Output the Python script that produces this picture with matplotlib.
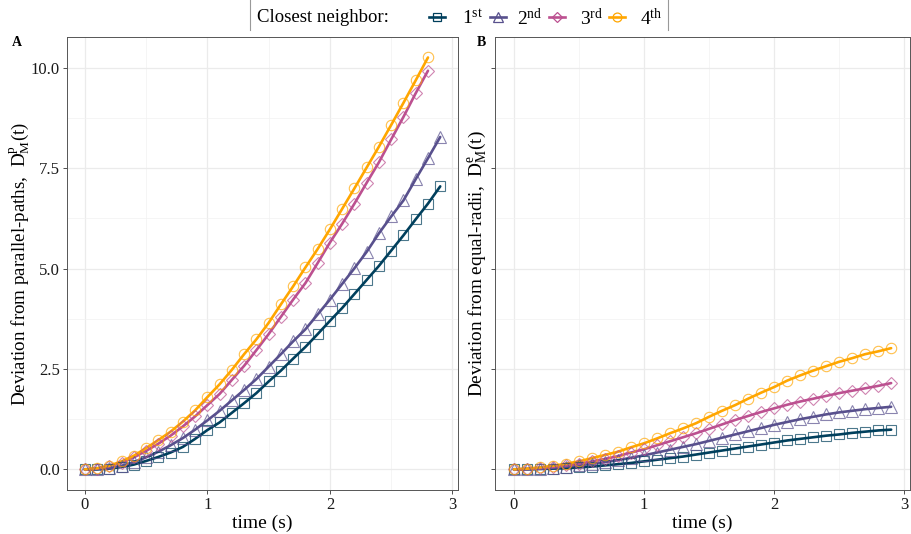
import matplotlib
matplotlib.use("Agg")
import matplotlib.pyplot as plt
from matplotlib.lines import Line2D
import numpy as np

plt.rcParams['font.family'] = ['Liberation Serif', 'DejaVu Serif']
plt.rcParams['mathtext.fontset'] = 'custom'
plt.rcParams['mathtext.rm'] = 'Liberation Serif'
plt.rcParams['mathtext.it'] = 'Liberation Serif:italic'

# ---------------- data ----------------
time_full = [round(0.1 * i, 1) for i in range(30)]   # 0.0 .. 2.9

labels = ["1$^{\\mathrm{st}}$", "2$^{\\mathrm{nd}}$", "3$^{\\mathrm{rd}}$", "4$^{\\mathrm{th}}$"]
colors = ["#003f5c", "#58508d", "#bc5090", "#ffa600"]
markers = ["s", "^", "D", "o"]
msizes = [7, 8, 6.5, 7.5]

# Panel A: deviation from parallel paths
A_1st = [0.0, 0.0, 0.02, 0.06, 0.12, 0.21, 0.31, 0.42, 0.56, 0.76, 0.98, 1.17, 1.41, 1.65, 1.90,
         2.19, 2.46, 2.76, 3.05, 3.37, 3.70, 4.02, 4.37, 4.72, 5.07, 5.45, 5.83, 6.23, 6.62, 7.05]
A_2nd = [0.0, 0.01, 0.03, 0.09, 0.18, 0.30, 0.44, 0.60, 0.78, 0.99, 1.22, 1.46, 1.72, 1.98, 2.25,
         2.56, 2.87, 3.19, 3.49, 3.86, 4.23, 4.62, 5.01, 5.42, 5.88, 6.30, 6.70, 7.23, 7.75, 8.28]
A_3rd = [0.0, 0.02, 0.08, 0.17, 0.30, 0.46, 0.64, 0.84, 1.07, 1.32, 1.60, 1.88, 2.23, 2.58, 2.97,
         3.37, 3.80, 4.23, 4.64, 5.14, 5.65, 6.12, 6.62, 7.14, 7.65, 8.22, 8.78, 9.37, 9.93]
A_4th = [0.0, 0.03, 0.09, 0.20, 0.34, 0.53, 0.73, 0.94, 1.19, 1.47, 1.80, 2.12, 2.48, 2.87, 3.24,
         3.65, 4.11, 4.56, 5.03, 5.49, 5.98, 6.49, 7.00, 7.52, 8.04, 8.58, 9.13, 9.69, 10.26]

# Panel B: deviation from equal radii
B_1st = [0.0, 0.0, 0.01, 0.02, 0.03, 0.05, 0.07, 0.10, 0.13, 0.16, 0.20, 0.24, 0.28, 0.32, 0.37,
         0.42, 0.47, 0.52, 0.57, 0.62, 0.67, 0.72, 0.76, 0.80, 0.84, 0.87, 0.91, 0.94, 0.97, 0.99]
B_2nd = [0.0, 0.01, 0.02, 0.04, 0.07, 0.10, 0.14, 0.18, 0.23, 0.29, 0.35, 0.42, 0.49, 0.56, 0.63,
         0.71, 0.79, 0.87, 0.95, 1.03, 1.11, 1.18, 1.25, 1.31, 1.37, 1.42, 1.46, 1.50, 1.53, 1.56]
B_3rd = [0.0, 0.01, 0.03, 0.06, 0.10, 0.14, 0.20, 0.26, 0.33, 0.42, 0.50, 0.60, 0.70, 0.80, 0.90,
         1.01, 1.12, 1.23, 1.33, 1.43, 1.52, 1.61, 1.69, 1.76, 1.83, 1.90, 1.96, 2.02, 2.08, 2.15]
B_4th = [0.0, 0.02, 0.05, 0.09, 0.14, 0.20, 0.28, 0.36, 0.44, 0.55, 0.65, 0.77, 0.90, 1.02, 1.15,
         1.31, 1.46, 1.60, 1.76, 1.91, 2.05, 2.21, 2.34, 2.46, 2.57, 2.68, 2.77, 2.87, 2.94, 3.02]

A_series = [A_1st, A_2nd, A_3rd, A_4th]
B_series = [B_1st, B_2nd, B_3rd, B_4th]

x_ticks = [0, 1, 2, 3]
y_ticks = [0.0, 2.5, 5.0, 7.5, 10.0]
y_ticklabels = ["0.0", "2.5", "5.0", "7.5", "10.0"]

# ---------------- figure ----------------
W, H = 912, 534
fig = plt.figure(figsize=(W / 100, H / 100), dpi=100)

def fx(px):
    return px / W

def fy(py):
    return 1 - py / H

axA = fig.add_axes([fx(67), fy(490), fx(458) - fx(67), fy(37) - fy(490)])
axB = fig.add_axes([fx(495), fy(490), fx(910) - fx(495), fy(37) - fy(490)])

def style(ax, show_ylabels):
    ax.set_xlim(-0.145, 3.045)
    ax.set_ylim(-0.513, 10.77)
    ax.set_xticks(x_ticks)
    ax.set_xticks([0.5, 1.5, 2.5], minor=True)
    ax.set_yticks(y_ticks)
    ax.set_yticks([1.25, 3.75, 6.25, 8.75], minor=True)
    ax.set_xticklabels([str(v) for v in x_ticks], fontsize=12, color="#1a1a1a")
    if show_ylabels:
        ax.set_yticklabels(y_ticklabels, fontsize=12, color="#1a1a1a")
    else:
        ax.set_yticklabels([])
    ax.grid(which="major", color="#ebebeb", linewidth=0.9)
    ax.grid(which="minor", color="#f2f2f2", linewidth=0.5)
    ax.set_axisbelow(True)
    ax.tick_params(which="major", length=3, width=0.6, color="#333333", pad=2)
    ax.tick_params(which="minor", length=0)
    for s in ax.spines.values():
        s.set_color("#555555")
        s.set_linewidth(0.7)
    ax.set_xlabel("time (s)", fontsize=14, labelpad=1)

def draw(ax, series):
    for vals, c, m, ms in zip(series, colors, markers, msizes):
        t = time_full[:len(vals)]
        ax.plot(t, vals, color=c, linewidth=1.9, zorder=3, solid_capstyle="round")
        ax.plot(t, vals, linestyle="none", marker=m, markersize=ms, markerfacecolor="none",
                markeredgecolor=c, markeredgewidth=0.8, alpha=0.7, zorder=4)

draw(axA, A_series)
draw(axB, B_series)
style(axA, True)
style(axB, False)

axA.set_ylabel("Deviation from parallel-paths,  $\\mathrm{D}_\\mathrm{M}^\\mathrm{p}(\\mathrm{t})$",
               fontsize=13.7)
axB.set_ylabel("Deviation from equal-radii,  $\\mathrm{D}_\\mathrm{M}^\\mathrm{e}(\\mathrm{t})$",
               fontsize=13.9)
axA.yaxis.set_label_coords(fx(20) / (fx(458) - fx(67)) - fx(67) / (fx(458) - fx(67)), 0.5)
axB.yaxis.set_label_coords((fx(478) - fx(495)) / (fx(910) - fx(495)), 0.5)
axA.yaxis.label.set_va("center")
axB.yaxis.label.set_va("center")

fig.text(fx(17), fy(42), "A", fontsize=10, fontweight="bold", ha="center", va="center")
fig.text(fx(481), fy(42), "B", fontsize=10, fontweight="bold", ha="center", va="center")

# ---------------- legend ----------------
fig.add_artist(Line2D([fx(250), fx(250)], [fy(0), fy(30)], color="#999999", linewidth=0.8))
fig.add_artist(Line2D([fx(668), fx(668)], [fy(0), fy(30)], color="#999999", linewidth=0.8))
fig.text(fx(257), fy(17), "Closest neighbor:", fontsize=13.5, ha="left", va="center")

key_x = [437, 498, 557, 617]
text_x = [462, 517, 580, 640]
for kx, tx, lab, c, m, ms in zip(key_x, text_x, labels, colors, markers, msizes):
    fig.add_artist(Line2D([fx(kx - 8), fx(kx + 8)], [fy(17), fy(17)], color=c, linewidth=1.9))
    fig.add_artist(Line2D([fx(kx)], [fy(17)], linestyle="none", marker=m, markersize=ms * 0.85,
                          markerfacecolor="none", markeredgecolor=c, markeredgewidth=0.9))
    fig.text(fx(tx), fy(18), lab, fontsize=14, ha="left", va="center")

fig.savefig("out.png", dpi=100)
